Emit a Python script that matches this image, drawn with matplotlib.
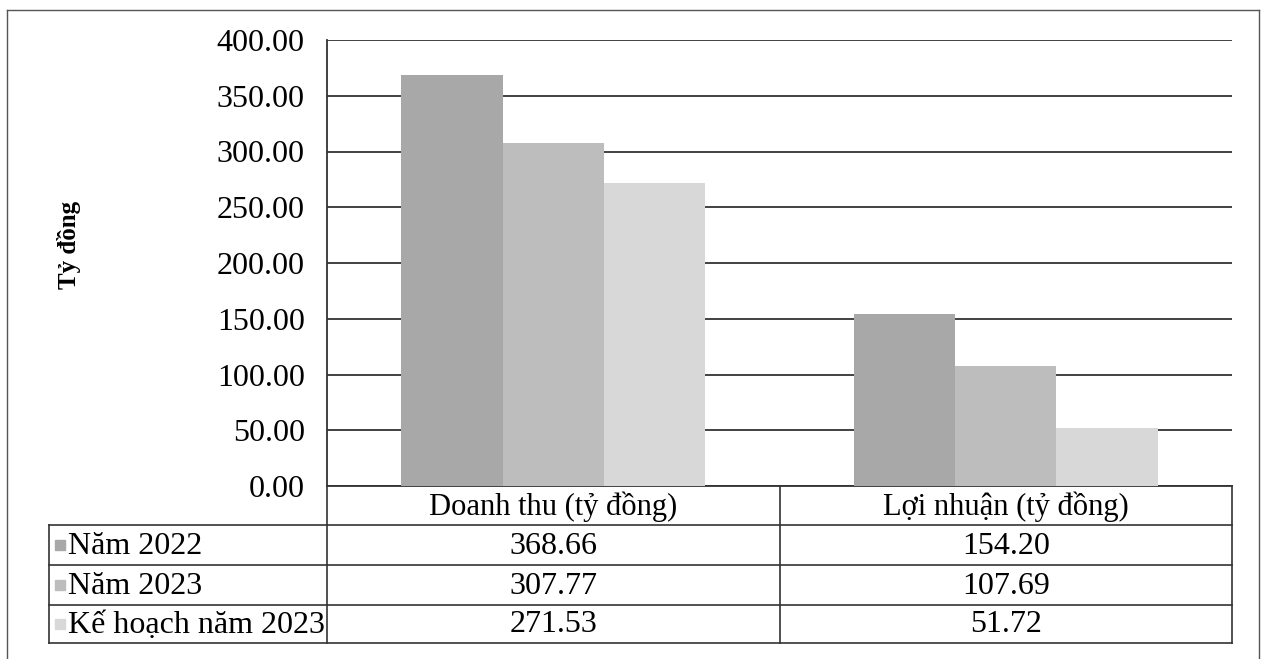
import matplotlib.pyplot as plt
from matplotlib.patches import Rectangle
from matplotlib.ticker import FormatStrFormatter

plt.rcParams["font.family"] = ["Liberation Serif", "DejaVu Serif"]

categories = ["Doanh thu (tỷ đồng)", "Lợi nhuận (tỷ đồng)"]
series_names = ["Năm 2022", "Năm 2023", "Kế hoạch năm 2023"]
nam_2022 = [368.66, 154.20]
nam_2023 = [307.77, 107.69]
ke_hoach_2023 = [271.53, 51.72]
colors = ["#a8a8a8", "#bdbdbd", "#d8d8d8"]

W, H = 1261, 659
FS = 23


def fx(px):
    return px / W


def fy(py):
    return 1 - py / H


fig = plt.figure(figsize=(W / 100, H / 100), dpi=100)
ax = fig.add_axes([fx(327), fy(486), 905 / W, 446 / H])

series = [nam_2022, nam_2023, ke_hoach_2023]
width = 0.224
x = range(len(categories))
for i, vals in enumerate(series):
    ax.bar([k + (i - 1) * width for k in x], vals, width=width,
           color=colors[i], edgecolor="none", zorder=3, label=series_names[i])

ax.set_xlim(-0.5, len(categories) - 0.5)
ax.set_ylim(0, 400)
ax.set_yticks(range(0, 401, 50))
ax.yaxis.set_major_formatter(FormatStrFormatter("%.2f"))
ax.set_xticks([])
ax.tick_params(axis="y", length=0, pad=16, labelsize=FS)
ax.grid(axis="y", color="#333333", linewidth=1.3, zorder=1)
for s in ["top", "right"]:
    ax.spines[s].set_visible(False)
ax.spines["left"].set_color("#333333")
ax.spines["bottom"].set_color("#333333")
ax.spines["left"].set_linewidth(1.3)
ax.spines["bottom"].set_linewidth(1.3)

fig.text(fx(69), fy(245), "Tỷ đồng", rotation=90, ha="center", va="center",
         fontsize=18, fontweight="bold")

# data table under the plot
lc = "#333333"
col_x = [49, 327, 780, 1232]
row_y = [486, 525, 565, 605, 643]
for y in row_y[1:]:
    fig.add_artist(plt.Line2D([fx(col_x[0]), fx(col_x[-1])], [fy(y), fy(y)],
                              color=lc, lw=1.2))
fig.add_artist(plt.Line2D([fx(col_x[0])] * 2, [fy(row_y[1]), fy(row_y[-1])], color=lc, lw=1.2))
for cx in col_x[1:]:
    fig.add_artist(plt.Line2D([fx(cx)] * 2, [fy(row_y[0]), fy(row_y[-1])], color=lc, lw=1.2))

for j, cat in enumerate(categories):
    cxm = (col_x[j + 1] + col_x[j + 2]) / 2
    fig.text(fx(cxm), fy((row_y[0] + row_y[1]) / 2 + 1), cat,
             ha="center", va="center", fontsize=22)
    for i, vals in enumerate(series):
        fig.text(fx(cxm), fy((row_y[i + 1] + row_y[i + 2]) / 2 + 1), f"{vals[j]:.2f}",
                 ha="center", va="center", fontsize=FS)

for i, name in enumerate(series_names):
    ym = (row_y[i + 1] + row_y[i + 2]) / 2
    fig.add_artist(Rectangle((fx(55), fy(ym + 5)), 10 / W, 10 / H,
                             color=colors[i], transform=fig.transFigure))
    fig.text(fx(68), fy(ym + 1), name, ha="left", va="center", fontsize=FS)

# outer chart border
for seg in [([7, 7], [10, 659]), ([7, 1259], [10, 10]), ([1259, 1259], [10, 659])]:
    fig.add_artist(plt.Line2D([fx(v) for v in seg[0]], [fy(v) for v in seg[1]],
                              color="#555555", lw=1.0))

fig.savefig("out.png", dpi=100)
